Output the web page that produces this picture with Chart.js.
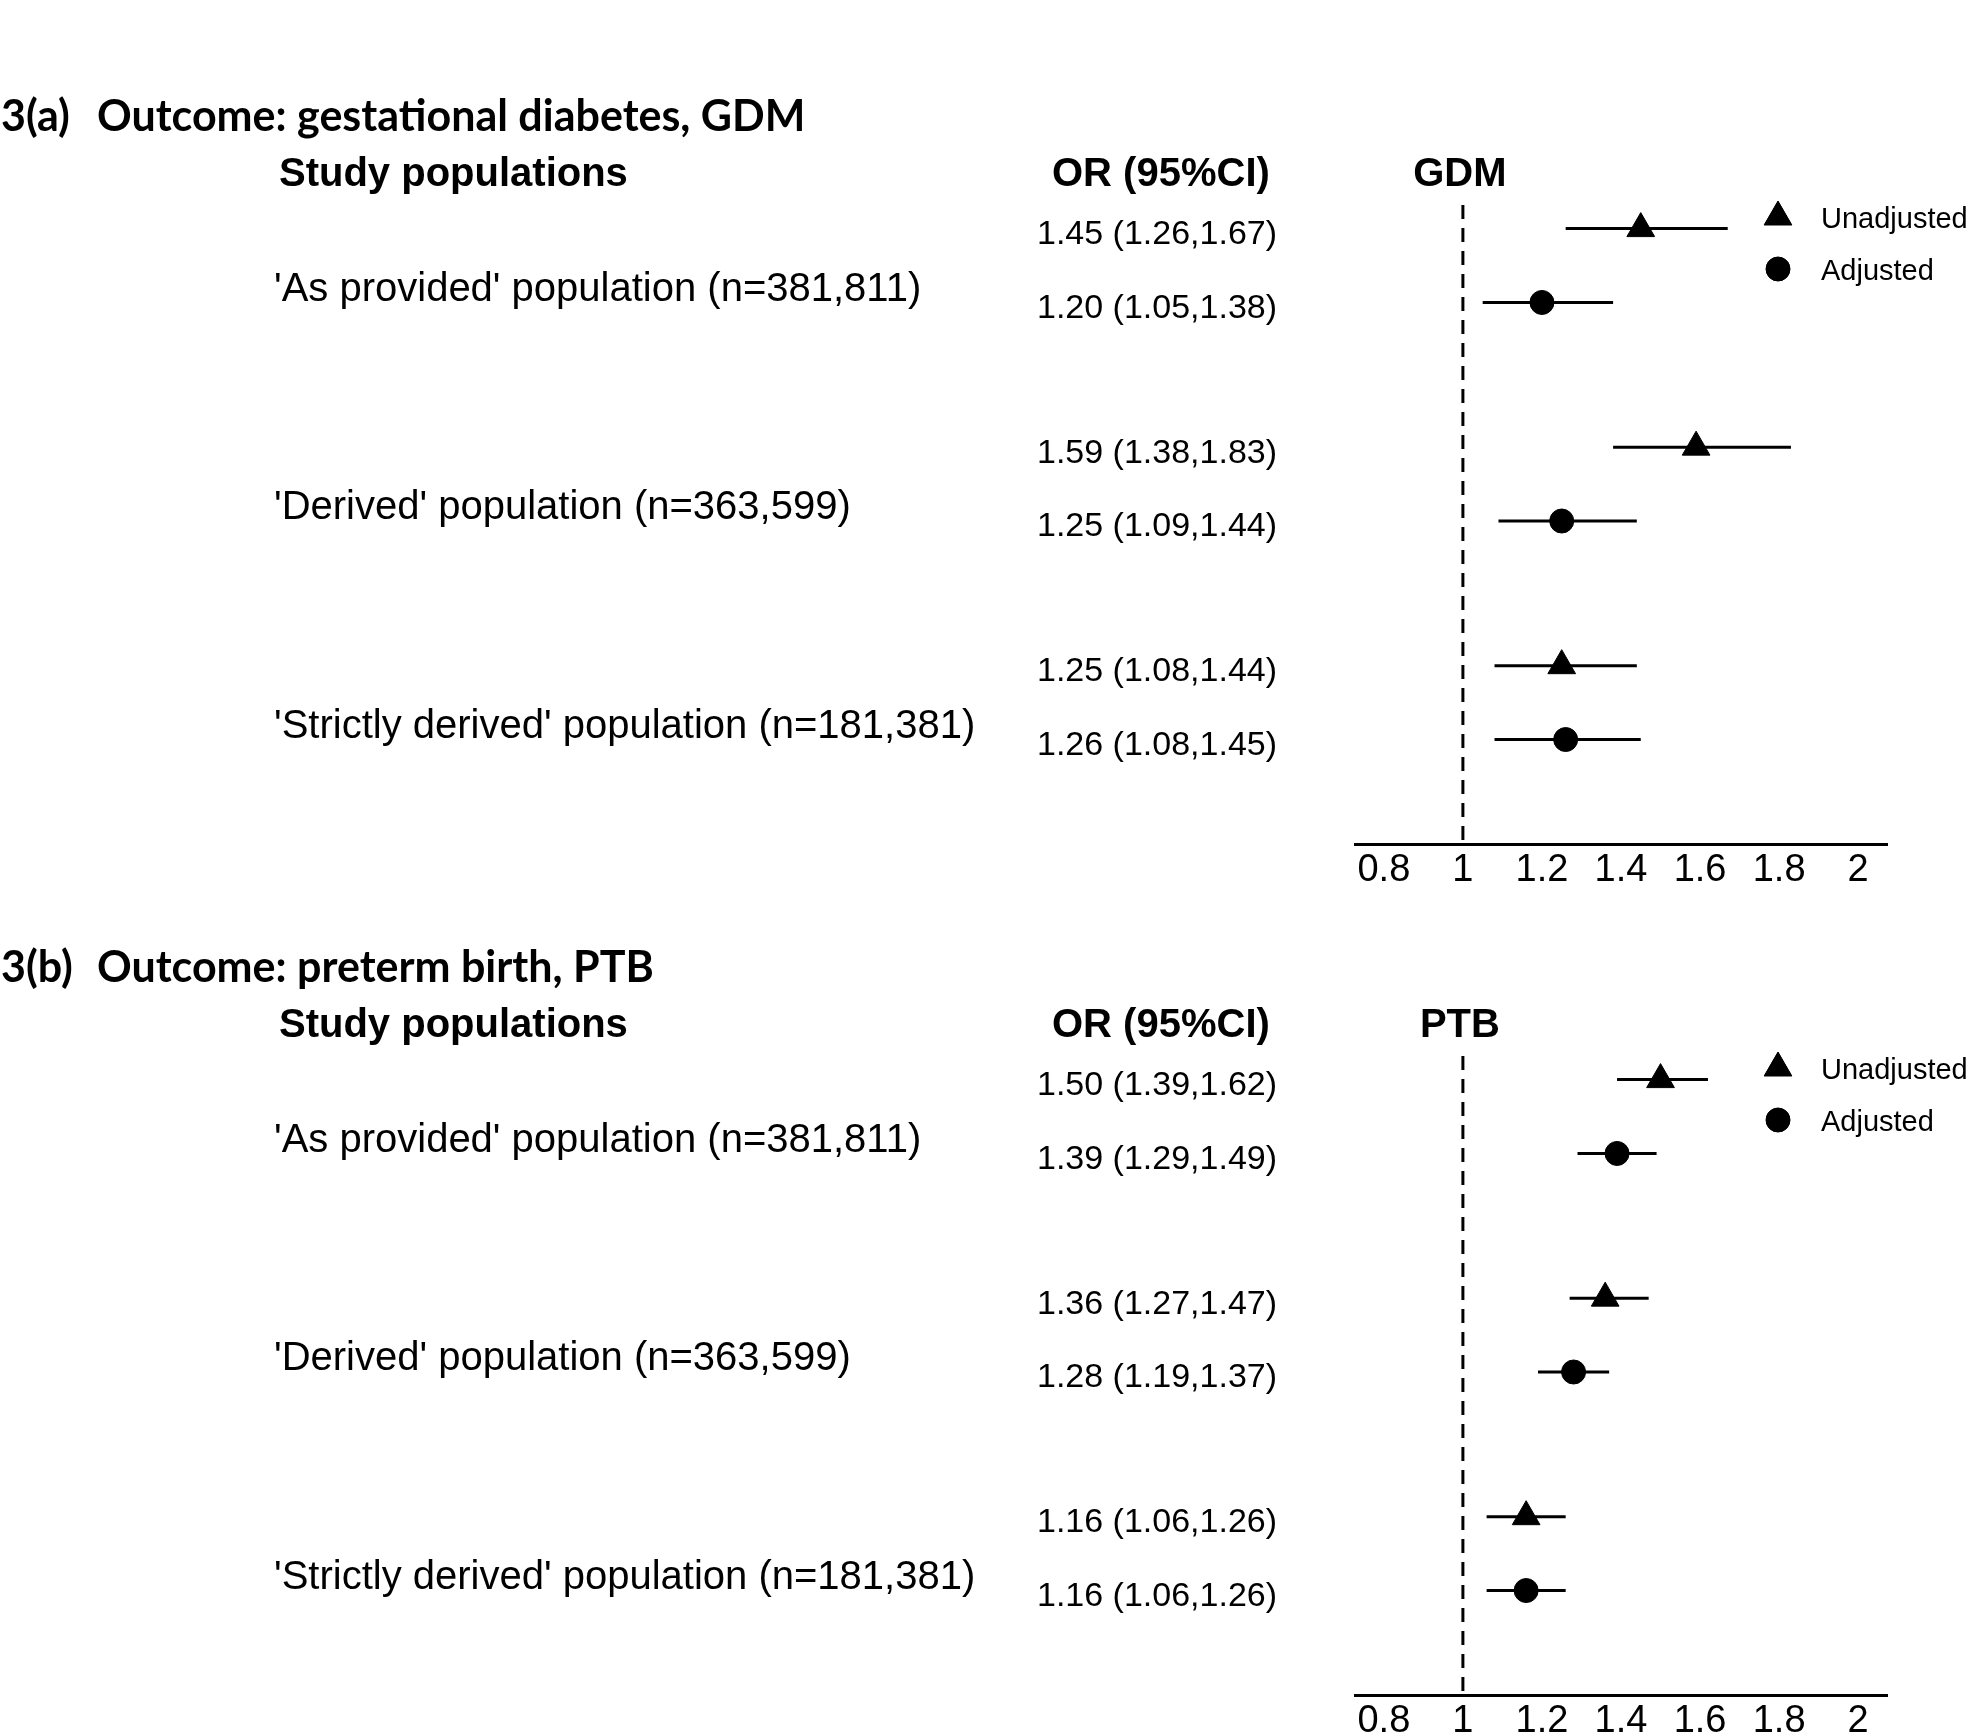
<!DOCTYPE html>
<html>
<head>
<meta charset="utf-8">
<script src="https://cdn.jsdelivr.net/npm/chart.js@4.4.1/dist/chart.umd.min.js"></script>
<style>
    body { margin: 0; background: #fff; width: 1969px; height: 1735px; position: relative; overflow: hidden; }
    canvas { position: absolute; left: 0; }
</style>
</head>
<body>
<canvas id="gdmChart" width="1969" height="884" style="top:0px;width:1969px;height:884px"></canvas>
<canvas id="ptbChart" width="1969" height="884" style="top:851px;width:1969px;height:884px"></canvas>
<script>
// study populations (one group of two rows each)
const populations = [
    "'As provided' population (n=381,811)",
    "'Derived' population (n=363,599)",
    "'Strictly derived' population (n=181,381)"
];
const tickValues = [0.8, 1, 1.2, 1.4, 1.6, 1.8, 2];
const tickLabels = ['0.8', '1', '1.2', '1.4', '1.6', '1.8', '2'];
const legendLabels = ['Unadjusted', 'Adjusted'];

// 3(a) GDM
const gdm_unadj    = [1.45, 1.59, 1.25];
const gdm_unadj_lo = [1.26, 1.38, 1.08];
const gdm_unadj_hi = [1.67, 1.83, 1.44];
const gdm_adj      = [1.20, 1.25, 1.26];
const gdm_adj_lo   = [1.05, 1.09, 1.08];
const gdm_adj_hi   = [1.38, 1.44, 1.45];

// 3(b) PTB
const ptb_unadj    = [1.50, 1.36, 1.16];
const ptb_unadj_lo = [1.39, 1.27, 1.06];
const ptb_unadj_hi = [1.62, 1.47, 1.26];
const ptb_adj      = [1.39, 1.28, 1.16];
const ptb_adj_lo   = [1.29, 1.19, 1.06];
const ptb_adj_hi   = [1.49, 1.37, 1.26];

const ROW_OFF = 0.169;   // half gap between the two rows of a group
const Y_MIN = -0.277;
const Y_MAX = 2.647;

function fmt(v, lo, hi){
    return v.toFixed(2) + ' (' + lo.toFixed(2) + ',' + hi.toFixed(2) + ')';
}

function drawMarker(ctx, style, r, x, y){
    if (Chart.helpers && Chart.helpers.drawPoint) {
        Chart.helpers.drawPoint(ctx, {pointStyle: style, radius: r, borderWidth: 1, rotation: 0}, x, y);
        ctx.fill();
        return;
    }
    ctx.beginPath();
    if (style === 'triangle') {
        ctx.moveTo(x, y - r);
        ctx.lineTo(x + r * 0.866, y + r / 2);
        ctx.lineTo(x - r * 0.866, y + r / 2);
        ctx.closePath();
    } else {
        ctx.arc(x, y, r, 0, Math.PI * 2);
    }
    ctx.fill();
    ctx.stroke();
}

const forestText = {
    id: 'forestText',
    afterDraw(chart, args, opts) {
        const ctx = chart.ctx;
        const ys = chart.scales.y;
        const xs = chart.scales.x;
        ctx.save();
        ctx.fillStyle = '#000';
        ctx.strokeStyle = '#000';

        // panel title
        ctx.textBaseline = 'alphabetic';
        ctx.textAlign = 'left';
        ctx.font = 'bold 43px Lato';
        ctx.fillText(opts.tag, 1, 131);
        ctx.fillText(opts.title, 97, 131);

        // column headers
        ctx.textBaseline = 'middle';
        ctx.font = 'bold 40px "Liberation Sans"';
        ctx.fillText('Study populations', 279, 175);
        ctx.fillText('OR (95%CI)', 1052, 175);
        ctx.textAlign = 'center';
        ctx.fillText(opts.outcome, xs.getPixelForValue(1) - 3, 175);

        // population labels and OR text
        ctx.textAlign = 'left';
        for (let g = 0; g < populations.length; g++) {
            ctx.font = '40px "Liberation Sans"';
            ctx.fillText(populations[g], 274, ys.getPixelForValue(g) + 24);
            ctx.font = '34px "Liberation Sans"';
            ctx.fillText(fmt(opts.unadj[g], opts.unadjLo[g], opts.unadjHi[g]), 1037, ys.getPixelForValue(g - ROW_OFF) + 6);
            ctx.fillText(fmt(opts.adj[g], opts.adjLo[g], opts.adjHi[g]), 1037, ys.getPixelForValue(g + ROW_OFF) + 6);
        }

        // legend
        ctx.lineWidth = 1;
        drawMarker(ctx, 'triangle', 16, 1778, 217);
        drawMarker(ctx, 'circle', 12, 1778, 269);
        ctx.fillStyle = '#000';
        ctx.font = '29px "Liberation Sans"';
        ctx.fillText(legendLabels[0], 1821, 220);
        ctx.fillText(legendLabels[1], 1821, 272);
        ctx.restore();
    }
};

function makeForest(id, tag, title, outcome, unadj, unadjLo, unadjHi, adj, adjLo, adjHi){
    const datasets = [];
    datasets.push({
        type: 'scatter',
        label: legendLabels[0],
        data: unadj.map((v, g) => ({x: v, y: g - ROW_OFF})),
        pointStyle: 'triangle',
        pointRadius: 16,
        pointHoverRadius: 16,
        backgroundColor: '#000',
        borderColor: '#000',
        borderWidth: 1
    });
    datasets.push({
        type: 'scatter',
        label: legendLabels[1],
        data: adj.map((v, g) => ({x: v, y: g + ROW_OFF})),
        pointStyle: 'circle',
        pointRadius: 12,
        pointHoverRadius: 12,
        backgroundColor: '#000',
        borderColor: '#000',
        borderWidth: 1
    });
    // confidence intervals
    for (let g = 0; g < unadj.length; g++) {
        datasets.push({
            type: 'line',
            data: [{x: unadjLo[g], y: g - ROW_OFF}, {x: unadjHi[g], y: g - ROW_OFF}],
            borderColor: '#000', borderWidth: 3, pointRadius: 0
        });
        datasets.push({
            type: 'line',
            data: [{x: adjLo[g], y: g + ROW_OFF}, {x: adjHi[g], y: g + ROW_OFF}],
            borderColor: '#000', borderWidth: 3, pointRadius: 0
        });
    }
    // line of no effect
    datasets.push({
        type: 'line',
        data: [{x: 1, y: Y_MIN}, {x: 1, y: Y_MAX}],
        borderColor: '#000', borderWidth: 3, borderDash: [14, 9], pointRadius: 0
    });

    return new Chart(document.getElementById(id).getContext('2d'), {
        type: 'scatter',
        data: {datasets: datasets},
        options: {
            responsive: false,
            animation: false,
            devicePixelRatio: 1,
            layout: {padding: {left: 1355, right: 82, top: 205, bottom: 0}},
            plugins: {
                legend: {display: false},
                tooltip: {enabled: false},
                forestText: {
                    tag: tag, title: title, outcome: outcome,
                    unadj: unadj, unadjLo: unadjLo, unadjHi: unadjHi,
                    adj: adj, adjLo: adjLo, adjHi: adjHi
                }
            },
            scales: {
                x: {
                    type: 'linear',
                    min: 0.727,
                    max: 2.073,
                    afterBuildTicks: (scale) => { scale.ticks = tickValues.map(v => ({value: v})); },
                    afterFit: (scale) => { scale.height = 40; },
                    grid: {display: false, drawTicks: false},
                    border: {display: true, color: '#000', width: 3},
                    ticks: {
                        autoSkip: false,
                        maxRotation: 0,
                        padding: 4,
                        color: '#000',
                        font: {family: '"Liberation Sans"', size: 38},
                        callback: (v) => tickLabels[tickValues.indexOf(v)]
                    }
                },
                y: {
                    type: 'linear',
                    display: false,
                    reverse: true,
                    min: Y_MIN,
                    max: Y_MAX
                }
            }
        },
        plugins: [forestText]
    });
}

makeForest('gdmChart', '3(a)', 'Outcome: gestational diabetes, GDM', 'GDM',
    gdm_unadj, gdm_unadj_lo, gdm_unadj_hi, gdm_adj, gdm_adj_lo, gdm_adj_hi);
makeForest('ptbChart', '3(b)', 'Outcome: preterm birth, PTB', 'PTB',
    ptb_unadj, ptb_unadj_lo, ptb_unadj_hi, ptb_adj, ptb_adj_lo, ptb_adj_hi);
</script>
</body>
</html>
